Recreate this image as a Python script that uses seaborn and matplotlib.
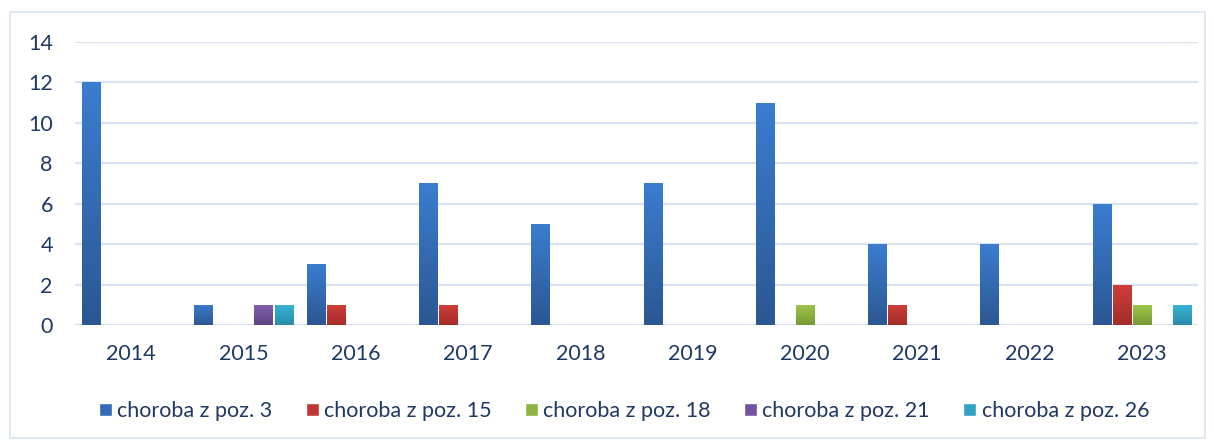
import numpy as np
import pandas as pd
import matplotlib
matplotlib.use("Agg")
import matplotlib.pyplot as plt
import seaborn as sns
from matplotlib.patches import Rectangle
from matplotlib.colors import LinearSegmentedColormap

years = ["2014", "2015", "2016", "2017", "2018", "2019", "2020", "2021", "2022", "2023"]
series = ["choroba z poz. 3", "choroba z poz. 15", "choroba z poz. 18",
          "choroba z poz. 21", "choroba z poz. 26"]
poz3 = [12, 1, 3, 7, 5, 7, 11, 4, 4, 6]
poz15 = [0, 0, 1, 1, 0, 0, 0, 1, 0, 2]
poz18 = [0, 0, 0, 0, 0, 0, 1, 0, 0, 1]
poz21 = [0, 1, 0, 0, 0, 0, 0, 0, 0, 0]
poz26 = [0, 1, 0, 0, 0, 0, 0, 0, 0, 1]

top_colors = ["#3B7DD0", "#D03F3A", "#9EC64A", "#8360AE", "#38B5D8"]
bot_colors = ["#2B5792", "#A42C28", "#789A35", "#5F4282", "#2A8CA8"]
mid_colors = ["#336BB5", "#BF3732", "#8CB440", "#7452A0", "#31A2C4"]
text_color = "#203864"
grid_color = "#D9E2F3"

df = pd.DataFrame({
    "year": np.repeat(years, 5),
    "series": series * len(years),
    "value": [v for vals in zip(poz3, poz15, poz18, poz21, poz26) for v in vals],
})

sns.set_theme(style="white")
plt.rcParams["font.family"] = ["Lato", "DejaVu Sans"]

fig = plt.figure(figsize=(12.14, 4.41), dpi=100)
ax = fig.add_axes([0.0618, 0.263, 0.925, 0.642])

sns.barplot(data=df, x="year", y="value", hue="series", order=years,
            hue_order=series, palette=mid_colors, width=0.893, gap=0.1,
            ax=ax, legend=True, errorbar=None, saturation=1)

# gradient fills for bars
for patch in list(ax.patches):
    h = patch.get_height()
    if not np.isfinite(h) or h <= 0:
        continue
    fc = patch.get_facecolor()
    idx = int(np.argmin([np.sum((np.array(matplotlib.colors.to_rgba(c)) - np.array(fc)) ** 2)
                         for c in mid_colors]))
    cmap = LinearSegmentedColormap.from_list("g", [bot_colors[idx], top_colors[idx]])
    x0, y0 = patch.get_x(), patch.get_y()
    w = patch.get_width()
    grad = np.linspace(0, 1, 256).reshape(-1, 1)
    im = ax.imshow(grad, cmap=cmap, origin="lower", aspect="auto",
                   extent=[x0, x0 + w, y0, y0 + h], zorder=3)
    im.set_clip_path(patch)
    patch.set_zorder(3)
    patch.set_edgecolor("none")

ax.set_xlim(-0.5, 9.5)
ax.set_ylim(0, 14)
ax.set_yticks(range(0, 15, 2))
ax.yaxis.grid(True, color=grid_color, linewidth=1.6)
ax.set_axisbelow(True)
for s in ax.spines.values():
    s.set_visible(False)
ax.axhline(0, color=grid_color, linewidth=1.6, zorder=1)
ax.set_xlabel("")
ax.set_ylabel("")
ax.tick_params(axis="both", length=0, labelsize=15.5, labelcolor=text_color)
ax.tick_params(axis="y", pad=16)
ax.tick_params(axis="x", pad=14)

handles, labels = ax.get_legend_handles_labels()
ax.get_legend().remove()
leg = fig.legend(handles, labels, loc="center", bbox_to_anchor=(0.514, 0.068),
                 ncol=5, frameon=False, fontsize=15.5, handlelength=0.6,
                 handleheight=0.6, handletextpad=0.25, columnspacing=1.55)
for t in leg.get_texts():
    t.set_color(text_color)

fig.patches.append(Rectangle((10 / 1214, 3 / 441), 1195 / 1214, 426 / 441,
                             transform=fig.transFigure, fill=False,
                             edgecolor=grid_color, linewidth=1.2))

fig.savefig("out.png", dpi=100)
